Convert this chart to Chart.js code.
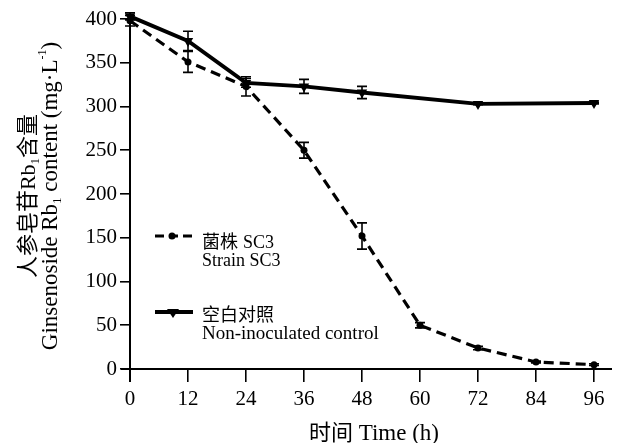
<!DOCTYPE html>
<html>
<head>
<meta charset="utf-8">
<script src="https://cdn.jsdelivr.net/npm/chart.js@4"></script>
<style>
  html, body { margin: 0; padding: 0; background: #fff; }
  #wrap { width: 617px; height: 443px; }
</style>
</head>
<body>
<div id="wrap"><canvas id="c" width="617" height="443"></canvas></div>
<script>
const xValues = [0, 12, 24, 36, 48, 60, 72, 84, 96];
const strainSC3 = [398, 351, 323, 250, 152, 50, 24, 8, 5];
const strainSC3Err = [6, 12, 11, 9, 15, 3, 2, 1, 1];
const control = [403, 375, 327, 323, 316, null, 303, null, 304];
const controlErr = [4, 11, 5, 8, 7, null, 1, null, 1];
const xTicks = [0, 12, 24, 36, 48, 60, 72, 84, 96];
const yTicks = [0, 50, 100, 150, 200, 250, 300, 350, 400];

const SERIF = '"Liberation Serif", "Times New Roman", serif';
const CJK = '"Noto Sans CJK SC", sans-serif';

function pts(vals) {
  return xValues.map((x, i) => ({ x: x, y: vals[i] }));
}

function drawRich(ctx, segs, cx, cy) {
  let total = 0;
  segs.forEach(s => { ctx.font = s.font; s.w = ctx.measureText(s.t).width; total += s.w; });
  let x = cx - total / 2;
  ctx.textBaseline = 'alphabetic';
  ctx.textAlign = 'left';
  segs.forEach(s => { ctx.font = s.font; ctx.fillText(s.t, x, cy + (s.dy || 0)); x += s.w; });
}

const errorBars = {
  id: 'errorBars',
  afterDatasetsDraw(chart) {
    const ctx = chart.ctx;
    const xs = chart.scales.x, ys = chart.scales.y;
    const sets = [[strainSC3, strainSC3Err], [control, controlErr]];
    ctx.save();
    ctx.strokeStyle = '#000';
    ctx.lineWidth = 1.6;
    sets.forEach(([vals, errs]) => {
      vals.forEach((v, i) => {
        const e = errs[i];
        if (v == null || !e) return;
        const px = xs.getPixelForValue(xValues[i]);
        const t = ys.getPixelForValue(v + e), b = ys.getPixelForValue(v - e);
        ctx.beginPath();
        ctx.moveTo(px, t); ctx.lineTo(px, b);
        ctx.moveTo(px - 5, t); ctx.lineTo(px + 5, t);
        ctx.moveTo(px - 5, b); ctx.lineTo(px + 5, b);
        ctx.stroke();
      });
    });
    ctx.restore();
  }
};

const decorations = {
  id: 'decorations',
  afterDraw(chart) {
    const ctx = chart.ctx;
    const a = chart.chartArea;
    ctx.save();
    ctx.strokeStyle = '#000';
    ctx.fillStyle = '#000';
    ctx.lineWidth = 2;
    // axes lines
    ctx.beginPath();
    ctx.moveTo(a.left - 9, a.bottom); ctx.lineTo(a.right + 18, a.bottom);
    ctx.moveTo(a.left, a.top - 7); ctx.lineTo(a.left, a.bottom + 13);
    ctx.stroke();

    // y title
    ctx.save();
    ctx.translate(26, 196);
    ctx.rotate(-Math.PI / 2);
    drawRich(ctx, [
      { t: '人参皂苷', font: '22px ' + CJK },
      { t: 'Rb', font: '22px ' + SERIF },
      { t: '1', font: '13px ' + SERIF, dy: 4 },
      { t: '含量', font: '22px ' + CJK }
    ], 0, 9);
    drawRich(ctx, [
      { t: 'Ginsenoside Rb', font: '23px ' + SERIF },
      { t: '1', font: '13px ' + SERIF, dy: 4 },
      { t: ' content (mg·L', font: '23px ' + SERIF },
      { t: '-1', font: '12px ' + SERIF, dy: -11 },
      { t: ')', font: '23px ' + SERIF }
    ], 0, 31);
    ctx.restore();

    // x title
    drawRich(ctx, [
      { t: '时间', font: '22px ' + CJK },
      { t: ' Time (h)', font: '23px ' + SERIF }
    ], 374, 440);

    // legend
    ctx.lineWidth = 3.2;
    ctx.setLineDash([9, 5]);
    ctx.beginPath(); ctx.moveTo(155, 236); ctx.lineTo(195, 236); ctx.stroke();
    ctx.setLineDash([]);
    ctx.beginPath(); ctx.arc(172, 236, 3.5, 0, Math.PI * 2); ctx.fill();
    ctx.lineWidth = 3.8;
    ctx.beginPath(); ctx.moveTo(155, 312); ctx.lineTo(193, 312); ctx.stroke();
    ctx.beginPath(); ctx.moveTo(167, 309); ctx.lineTo(179, 309); ctx.lineTo(173, 318); ctx.closePath(); ctx.fill();

    ctx.textAlign = 'left';
    ctx.textBaseline = 'alphabetic';
    ctx.font = '18px ' + CJK; ctx.fillText('菌株', 202, 248);
    ctx.font = '18px ' + SERIF; ctx.fillText('SC3', 243, 248);
    ctx.font = '18px ' + SERIF; ctx.fillText('Strain SC3', 202, 266);
    ctx.font = '18px ' + CJK; ctx.fillText('空白对照', 202, 321);
    ctx.font = '19px ' + SERIF; ctx.fillText('Non-inoculated control', 202, 339);
    ctx.restore();
  }
};

new Chart(document.getElementById('c'), {
  type: 'line',
  data: {
    datasets: [
      {
        label: '菌株 SC3 Strain SC3',
        data: pts(strainSC3),
        borderColor: '#000',
        backgroundColor: '#000',
        borderWidth: 3.2,
        borderDash: [10, 6],
        pointStyle: 'circle',
        pointRadius: 3.5,
        pointBorderWidth: 0,
        tension: 0,
        clip: false
      },
      {
        label: '空白对照 Non-inoculated control',
        data: pts(control),
        borderColor: '#000',
        backgroundColor: '#000',
        borderWidth: 3.8,
        pointStyle: 'triangle',
        pointRotation: 180,
        pointRadius: 6,
        pointBorderWidth: 0,
        spanGaps: true,
        tension: 0,
        clip: false
      }
    ]
  },
  options: {
    responsive: false,
    animation: false,
    devicePixelRatio: 1,
    layout: { padding: { top: 19, right: 23, left: 0, bottom: 0 } },
    plugins: { legend: { display: false }, tooltip: { enabled: false } },
    scales: {
      x: {
        type: 'linear',
        min: 0, max: 96,
        afterBuildTicks(s) { s.ticks = xTicks.map(v => ({ value: v })); },
        afterFit(s) { s.height = 74; },
        border: { display: false },
        grid: { drawOnChartArea: false, drawTicks: true, tickLength: 13, color: '#000', lineWidth: 1.6 },
        ticks: { color: '#000', padding: 5, font: { family: SERIF, size: 21 }, maxRotation: 0 }
      },
      y: {
        min: 0, max: 400,
        afterBuildTicks(s) { s.ticks = yTicks.map(v => ({ value: v })); },
        afterFit(s) { s.width = 130; },
        border: { display: false },
        grid: { drawOnChartArea: false, drawTicks: true, tickLength: 10, color: '#000', lineWidth: 1.6 },
        ticks: { color: '#000', padding: 3, font: { family: SERIF, size: 21 } }
      }
    }
  },
  plugins: [errorBars, decorations]
});
</script>
</body>
</html>
